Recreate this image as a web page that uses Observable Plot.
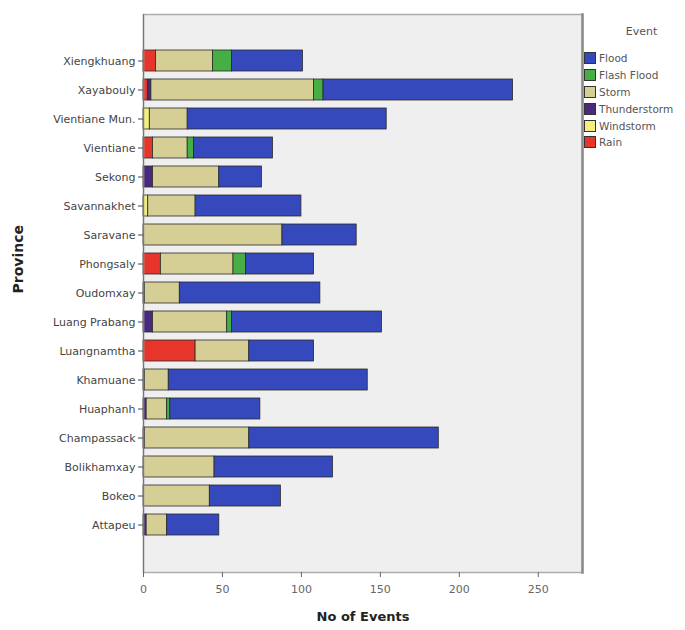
<!DOCTYPE html>
<html>
<head>
<meta charset="utf-8">
<script src="https://cdn.jsdelivr.net/npm/d3@7"></script>
<script src="https://cdn.jsdelivr.net/npm/@observablehq/plot@0.6"></script>
<style>
  body { margin: 0; background: #fff; }
  #wrap { position: relative; width: 685px; height: 630px; font-family: "DejaVu Sans", sans-serif; }
  #legend { position: absolute; left: 584px; top: 24px; width: 101px; color: #555; font-size: 10.5px; }
  #legend .title { text-align: center; padding-left: 14px; font-size: 11px; height: 26px; line-height: 16px; }
  #legend .item { display: flex; align-items: center; height: 16.8px; white-space: nowrap; }
  #legend .sw { width: 12px; height: 12px; border: 1px solid #333; box-sizing: border-box; margin-right: 3px; flex: none; }
</style>
</head>
<body>
<div id="wrap"><div id="chart"></div><div id="legend"></div></div>
<script>
const provinces = ["Xiengkhuang","Xayabouly","Vientiane Mun.","Vientiane","Sekong","Savannakhet","Saravane","Phongsaly","Oudomxay","Luang Prabang","Luangnamtha","Khamuane","Huaphanh","Champassack","Bolikhamxay","Bokeo","Attapeu"];
// stack order left to right
const events = ["Rain","Windstorm","Thunderstorm","Storm","Flash Flood","Flood"];
const legendOrder = ["Flood","Flash Flood","Storm","Thunderstorm","Windstorm","Rain"];
const eventColors = ["#e8352b","#f3ef7c","#4a2a7c","#d5cf96","#47ae46","#3549bd"];

const rain         = [8, 3, 0, 6, 0, 0, 0, 11, 0, 0, 33, 0, 0, 0, 0, 0, 0];
const windstorm    = [0, 0, 4, 0, 0, 3, 0, 0, 1, 0, 0, 1, 0, 1, 0, 0, 0];
const thunderstorm = [0, 2, 0, 0, 6, 0, 0, 0, 0, 6, 0, 0, 2, 0, 0, 0, 2];
const storm        = [36, 103, 24, 22, 42, 30, 88, 46, 22, 47, 34, 15, 13, 66, 45, 42, 13];
const flashFlood   = [12, 6, 0, 4, 0, 0, 0, 8, 0, 3, 0, 0, 2, 0, 0, 0, 0];
const flood        = [45, 120, 126, 50, 27, 67, 47, 43, 89, 95, 41, 126, 57, 120, 75, 45, 33];

const series = [rain, windstorm, thunderstorm, storm, flashFlood, flood];
const rows = [];
provinces.forEach((p, i) => {
  events.forEach((e, j) => {
    if (series[j][i] > 0) rows.push({province: p, event: e, value: series[j][i]});
  });
});

const chart = Plot.plot({
  width: 685,
  height: 630,
  marginLeft: 143,
  marginRight: 103,
  marginTop: 14,
  marginBottom: 58,
  style: {fontFamily: "DejaVu Sans, sans-serif", background: "transparent"},
  x: {domain: [0, 278]},
  y: {domain: provinces, paddingInner: 0.26, paddingOuter: 1.05},
  color: {domain: events, range: eventColors},
  marks: [
    Plot.frame({fill: "#efefef", stroke: null}),
    Plot.barX(rows, Plot.stackX({x: "value", y: "province", fill: "event", stroke: "#2a2a2a", strokeWidth: 0.8})),
    Plot.frame({stroke: "#adadad", strokeWidth: 1.5}),
    Plot.frame({anchor: "right", stroke: "#8a8a8a", strokeWidth: 2.5}),
    Plot.frame({anchor: "left", stroke: "#777", strokeWidth: 1.2}),
    Plot.axisX({ticks: [0, 50, 100, 150, 200, 250], tickSize: 5, tickPadding: 8, fontSize: 11, color: "#666", label: null}),
    Plot.axisY({tickSize: 5, tickPadding: 3, fontSize: 11, color: "#444", label: null}),
    Plot.text(["No of Events"], {frameAnchor: "bottom", dy: 48, fontSize: 13, fontWeight: "bold", fill: "#222"}),
    Plot.text(["Province"], {frameAnchor: "left", dx: -125, rotate: -90, fontSize: 14, fontWeight: "bold", fill: "#222"})
  ]
});
document.getElementById("chart").appendChild(chart);

const legend = document.getElementById("legend");
const t = document.createElement("div");
t.className = "title"; t.textContent = "Event";
legend.appendChild(t);
legendOrder.forEach(e => {
  const it = document.createElement("div"); it.className = "item";
  const sw = document.createElement("span"); sw.className = "sw";
  sw.style.background = eventColors[events.indexOf(e)];
  const lb = document.createElement("span"); lb.textContent = e;
  it.appendChild(sw); it.appendChild(lb);
  legend.appendChild(it);
});
</script>
</body>
</html>
